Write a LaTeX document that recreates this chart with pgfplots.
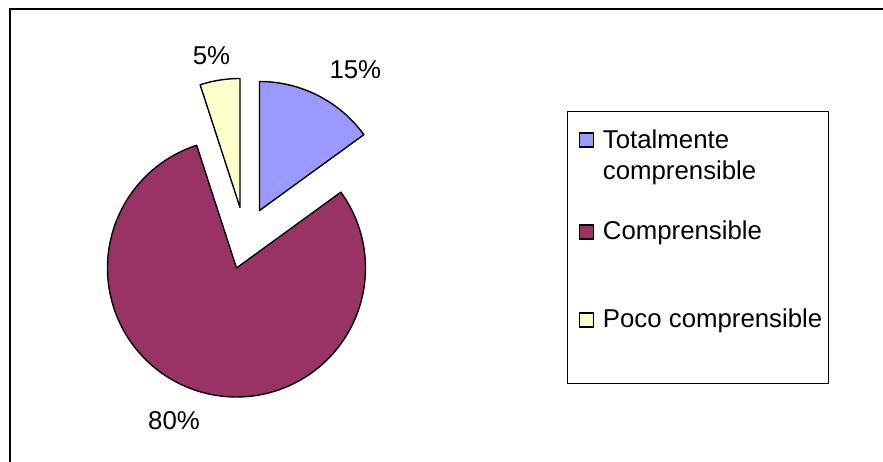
\documentclass[border=0pt]{standalone}
\usepackage{pgfplots}
\pgfplotsset{compat=1.18}
\usepackage{fontspec}
\setmainfont{Liberation Sans}
\definecolor{cA}{HTML}{9999FF}
\definecolor{cB}{HTML}{993366}
\definecolor{cC}{HTML}{FFFFCC}
% pie data (percent)
\def\pA{15}
\def\pB{80}
\def\pC{5}
\def\R{129}
\begin{document}
\fontsize{25.8}{31.7}\selectfont
\begin{tikzpicture}
\pgfmathsetmacro\aStart{90}
\pgfmathsetmacro\aAend{90-\pA*3.6}
\pgfmathsetmacro\aBend{\aAend-\pB*3.6}
\pgfmathsetmacro\aCend{\aBend-\pC*3.6}
\begin{axis}[
  width=883pt, height=462pt, scale only axis,
  xmin=0, xmax=883, ymin=0, ymax=462,
  hide axis, clip=false,
]
% slice 1 (15%)
\addplot[fill=cA, draw=black, line width=1.4pt, domain=\aAend:\aStart, samples=60, line join=round]
  ({259.5+\R*cos(x)},{251.5+\R*sin(x)}) -- (259.5,251.5) -- cycle;
% slice 2 (80%)
\addplot[fill=cB, draw=black, line width=1.4pt, domain=\aBend:\aAend, samples=200, line join=round]
  ({236.5+\R*cos(x)},{194+\R*sin(x)}) -- (236.5,194) -- cycle;
% slice 3 (5%)
\addplot[fill=cC, draw=black, line width=1.4pt, domain=\aCend:\aBend, samples=30, line join=round]
  ({240+\R*cos(x)},{254.5+\R*sin(x)}) -- (240,254.5) -- cycle;
% percentage labels
\node[anchor=base west, inner sep=0pt] at (329.3,383.7) {15\%};
\node[anchor=base west, inner sep=0pt] at (192.7,397.7) {5\%};
\node[anchor=base west, inner sep=0pt] at (148,32.7) {80\%};
% legend
\draw[line width=1.1pt] (567.5,78.7) rectangle (828.3,350.3);
\draw[fill=cA, line width=1.1pt] (579.5,315) rectangle (593.5,329);
\draw[fill=cB, line width=1.1pt] (579.5,223) rectangle (593.5,237);
\draw[fill=cC, line width=1.1pt] (579.5,135) rectangle (593.5,149);
\node[anchor=base west, inner sep=0pt] at (602.7,313.7) {Totalmente};
\node[anchor=base west, inner sep=0pt] at (602.7,282) {comprensible};
\node[anchor=base west, inner sep=0pt] at (602.7,222.7) {Comprensible};
\node[anchor=base west, inner sep=0pt] at (602.7,134.3) {Poco comprensible};
% outer chart frame
\draw[line width=2.2pt] (10,-10) -- (10,453) -- (900,453);
\end{axis}
\pgfresetboundingbox
\useasboundingbox (current axis.south west) rectangle (current axis.north east);
\end{tikzpicture}
\end{document}
